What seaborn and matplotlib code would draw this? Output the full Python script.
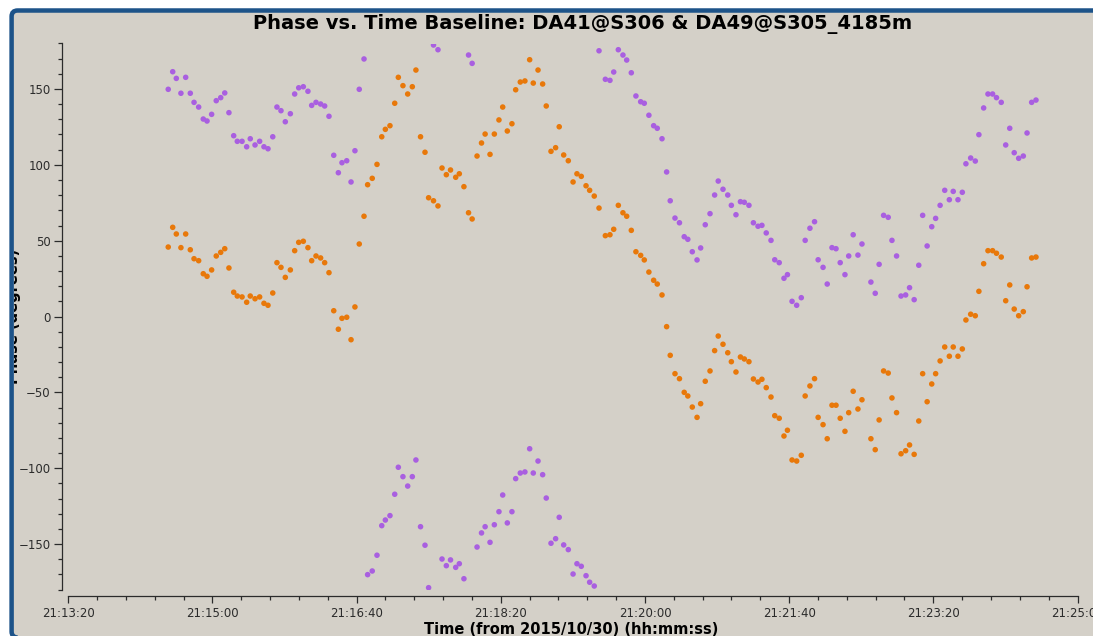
import matplotlib
matplotlib.use("Agg")
import matplotlib.pyplot as plt
import seaborn as sns
import pandas as pd
from matplotlib.patches import FancyBboxPatch
from matplotlib.ticker import MultipleLocator
from matplotlib.transforms import Bbox, TransformedBbox

# ---------------- data ----------------
# seconds after 21:13:20 on 2015/10/30
time_s = [
    69.3, 72.4, 74.9, 78.1, 81.4, 84.6, 87.2, 90.4, 93.6, 96.2,
    99.4, 102.6, 105.7, 108.5, 111.4, 114.7, 117.2, 120.5, 123.7, 126.2,
    129.5, 132.7, 135.7, 138.5, 141.8, 144.7, 147.5, 150.5, 154.0, 157.0,
    159.8, 163.0, 166.2, 168.8, 171.8, 175.0, 177.8, 180.8, 184.1, 187.3,
    189.8, 193.1, 196.1, 198.8, 201.8, 205.1, 207.6, 210.8, 214.1, 217.4,
    219.9, 223.1, 226.4, 228.9, 232.1, 235.4, 238.6, 241.1, 244.3, 247.4,
    249.9, 253.3, 256.4, 259.2, 262.2, 265.1, 268.7, 271.2, 274.4, 277.6,
    280.1, 283.5, 286.6, 289.1, 292.5, 295.5, 298.7, 301.3, 304.5, 307.7,
    310.3, 313.5, 316.7, 320.0, 322.5, 325.8, 329.0, 331.5, 334.8, 338.0,
    340.5, 343.6, 346.8, 350.1, 352.8, 355.8, 359.1, 361.6, 364.8, 368.1,
    372.5, 375.7, 378.3, 381.5, 384.7, 387.3, 390.5, 393.7, 397.0, 399.5,
    402.7, 406.0, 408.5, 411.8, 415.0, 417.5, 420.8, 423.9, 427.2, 429.7,
    432.8, 436.1, 438.6, 441.8, 445.1, 448.3, 450.8, 454.1, 457.4, 459.9,
    463.1, 466.2, 468.9, 472.1, 475.2, 478.4, 481.1, 484.1, 487.4, 490.0,
    493.1, 496.4, 498.8, 502.0, 505.2, 508.4, 511.1, 514.4, 517.6, 520.1,
    523.5, 526.4, 529.7, 532.5, 535.4, 538.7, 541.3, 544.4, 547.7, 550.5,
    556.7, 559.7, 562.4, 565.5, 568.7, 571.3, 574.5, 577.6, 580.8, 583.5,
    586.7, 589.9, 592.6, 595.7, 598.9, 601.6, 604.7, 607.9, 611.1, 613.8,
    617.1, 620.1, 622.6, 625.9, 629.1, 631.6, 634.9, 637.9, 641.1, 643.8,
    647.1, 650.2, 653.0, 656.1, 659.2, 662.4, 665.0, 668.2, 671.2,
]

phase_purple = [
    149.8, 161.4, 157.0, 147.2, 157.7, 147.2, 141.2, 138.1, 130.2, 128.9,
    133.3, 142.3, 144.3, 147.4, 134.4, 119.2, 115.5, 115.5, 111.9, 117.2,
    113.1, 115.5, 111.9, 110.6, 118.5, 138.1, 135.7, 128.4, 133.7, 146.7,
    150.8, 151.5, 148.5, 139.2, 141.2, 140.1, 138.8, 132.0, 106.3, 94.8,
    101.4, 102.7, 88.7, 109.3, 149.8, 169.8, -170.2, -167.8, -157.4, -137.9,
    -134.2, -131.3, -117.2, -99.4, -105.6, -111.8, -105.6, -94.6, -138.6, -150.8,
    -178.8, 179.0, 175.9, -159.9, -164.3, -160.5, -165.4, -163.0, -172.9, 172.4,
    166.9, -152.0, -142.7, -138.6, -148.9, -137.3, -128.7, -117.7, -136.1, -128.7,
    -106.9, -103.2, -102.5, -87.2, -103.2, -95.3, -104.3, -119.7, -149.5, -146.5,
    -132.4, -150.6, -153.7, -169.8, -163.0, -164.7, -170.9, -175.2, -177.7, 175.2,
    156.4, 155.7, 161.2, 175.9, 172.4, 169.1, 160.7, 145.4, 141.6, 140.6,
    132.7, 125.8, 124.1, 117.2, 95.3, 76.3, 64.9, 61.8, 52.6, 50.9,
    42.7, 37.3, 45.2, 60.5, 67.8, 80.1, 89.3, 83.9, 80.1, 73.3,
    67.1, 75.7, 75.3, 73.3, 61.8, 59.5, 60.1, 55.1, 50.2, 37.4,
    35.5, 25.2, 27.6, 10.0, 7.4, 12.4, 50.2, 58.2, 62.5, 37.4,
    32.4, 21.4, 45.4, 44.7, 35.5, 27.6, 39.9, 53.9, 40.5, 47.8,
    22.7, 15.3, 34.4, 66.7, 65.4, 50.2, 39.9, 13.5, 14.2, 19.0,
    11.1, 33.8, 66.7, 46.5, 59.2, 64.7, 73.3, 83.2, 77.0, 82.5,
    77.0, 81.9, 100.7, 104.5, 102.5, 119.9, 137.5, 146.7, 146.7, 144.3,
    141.2, 113.1, 124.1, 108.0, 104.3, 105.8, 121.0, 141.2, 142.7,
]

phase_orange = [
    45.8, 58.8, 54.4, 45.4, 54.4, 44.0, 38.1, 36.8, 28.2, 26.5,
    30.7, 39.9, 42.3, 44.7, 32.0, 16.0, 13.5, 12.9, 9.4, 13.5,
    11.7, 12.9, 8.7, 7.4, 15.5, 35.5, 32.4, 25.8, 30.7, 43.4,
    48.9, 49.6, 45.4, 36.8, 39.9, 38.6, 35.5, 28.9, 3.8, -8.4,
    -1.2, -0.5, -15.3, 6.3, 47.8, 66.1, 86.9, 91.1, 100.3, 118.5,
    123.4, 125.8, 140.6, 157.7, 152.2, 146.7, 151.5, 162.5, 118.5, 108.3,
    78.3, 76.3, 72.9, 97.9, 93.5, 96.6, 91.8, 94.1, 85.6, 68.4,
    64.3, 105.8, 114.4, 120.3, 106.9, 120.3, 129.6, 138.1, 122.3, 127.1,
    149.5, 154.6, 155.3, 169.3, 153.9, 162.5, 153.3, 138.8, 108.9, 111.3,
    125.1, 106.5, 102.7, 88.7, 94.1, 92.4, 86.2, 83.2, 79.4, 71.5,
    53.3, 53.9, 57.5, 73.3, 68.4, 66.1, 56.8, 42.7, 40.3, 37.3,
    29.3, 23.9, 21.4, 14.2, -6.7, -25.6, -37.7, -41.0, -50.0, -52.4,
    -59.7, -66.5, -57.5, -42.7, -35.9, -22.5, -12.9, -18.3, -23.9, -29.8,
    -36.6, -26.7, -28.0, -29.8, -41.2, -43.2, -41.4, -46.9, -53.1, -65.4,
    -67.1, -78.8, -75.0, -94.6, -95.3, -91.5, -52.4, -45.8, -41.0, -66.5,
    -71.3, -80.6, -58.5, -58.5, -67.1, -75.7, -63.4, -49.3, -61.0, -54.9,
    -80.6, -87.8, -68.2, -35.9, -37.3, -53.7, -63.4, -90.5, -88.5, -84.7,
    -90.9, -68.9, -37.7, -56.2, -44.5, -37.7, -29.3, -20.1, -26.2, -20.1,
    -26.2, -21.4, -2.3, 1.5, 0.5, 16.6, 34.8, 43.4, 43.4, 41.7,
    39.2, 10.4, 20.8, 4.9, 0.5, 3.2, 19.6, 38.6, 39.2,
]

x_tick_seconds = [0, 100, 200, 300, 400, 500, 600, 700]
x_tick_labels = ["21:13:20", "21:15:00", "21:16:40", "21:18:20",
                 "21:20:00", "21:21:40", "21:23:20", "21:25:00"]

title = "Phase vs. Time Baseline: DA41@S306 & DA49@S305_4185m"
x_label = "Time (from 2015/10/30) (hh:mm:ss)"
y_label = "Phase (degrees)"

# ---------------- styling ----------------
sns.set_style("ticks")
plt.rcParams['font.family'] = ['DejaVu Sans']

W, H = 1093, 636
BG = '#d4d0c8'
FRAME = '#1d5389'
INK = '#2b2b2b'
PURPLE = '#a95fe0'
ORANGE = '#e8780a'

df = pd.concat([
    pd.DataFrame({"t": time_s, "phase": phase_purple, "corr": "YY"}),
    pd.DataFrame({"t": time_s, "phase": phase_orange, "corr": "XX"}),
], ignore_index=True)

fig = plt.figure(figsize=(W / 100, H / 100), dpi=100, facecolor='white')


def px(v):
    return v / 100.0


# panel background and blue frame (pixel units via inches); right side runs off the image
x0, y0 = px(11.6), px(-1.5)
w0, h0 = px(1160 - 11.6), px(H - 10.5 + 1.5)
bg_patch = FancyBboxPatch((x0, y0), w0, h0, boxstyle="round,pad=0,rounding_size=0.06",
                          transform=fig.dpi_scale_trans, facecolor=BG, edgecolor='none',
                          zorder=-5)
frame_patch = FancyBboxPatch((x0, y0), w0, h0, boxstyle="round,pad=0,rounding_size=0.06",
                             transform=fig.dpi_scale_trans, facecolor='none',
                             edgecolor=FRAME, linewidth=4.5 * 0.72, zorder=20)
fig.patches.append(bg_patch)
fig.patches.append(frame_patch)

ax = fig.add_axes([68.33 / W, (H - 589.5) / H, (1077.5 - 68.33) / W, (589.5 - 43.5) / H])
ax.set_facecolor('none')

sns.scatterplot(data=df, x="t", y="phase", hue="corr", hue_order=["YY", "XX"],
                palette={"YY": PURPLE, "XX": ORANGE}, s=16, linewidth=0,
                edgecolor='none', legend=False, ax=ax, zorder=3)

ax.set_xlim(0, 700)
ax.set_ylim(-180, 180)
ax.set_xlabel("")
ax.set_ylabel("")

for side in ("top", "right"):
    ax.spines[side].set_visible(False)
ax.spines["left"].set_position(("outward", 6.3 * 0.72))
ax.spines["bottom"].set_position(("outward", 6.5 * 0.72))
for side in ("left", "bottom"):
    ax.spines[side].set_color(INK)
    ax.spines[side].set_linewidth(0.9)

ax.set_xticks(x_tick_seconds)
ax.set_xticklabels(x_tick_labels)
ax.xaxis.set_minor_locator(MultipleLocator(20))
ax.yaxis.set_major_locator(MultipleLocator(50))
ax.yaxis.set_minor_locator(MultipleLocator(10))

ax.tick_params(axis='both', which='both', direction='out', color=INK, width=0.9,
               labelcolor=INK, labelsize=8.5)
ax.tick_params(axis='y', which='major', length=5.8, pad=2.5)
ax.tick_params(axis='y', which='minor', length=2.9)
ax.tick_params(axis='x', which='major', length=5.0, pad=3)
ax.tick_params(axis='x', which='minor', length=2.9)

fig.text(583 / W, (H - 28.5) / H, title, ha='center', va='baseline',
         fontsize=14, fontweight='bold', color='black', zorder=5)
fig.text(571 / W, (H - 622) / H, x_label, ha='center', va='top',
         fontsize=10.5, fontweight='bold', color='black', zorder=5)
ylab = fig.text(21.0 / W, (H - 316) / H, y_label, ha='right', va='center', rotation=90,
                fontsize=10.5, fontweight='bold', color='black', zorder=5)
# the panel hides whatever part of the axis title falls outside it
panel_box = TransformedBbox(Bbox([[px(14), 0], [px(W), px(H)]]), fig.dpi_scale_trans)
ylab.set_clip_box(panel_box)
ylab.set_clip_on(True)

fig.savefig("out.png", dpi=100, facecolor='white')
